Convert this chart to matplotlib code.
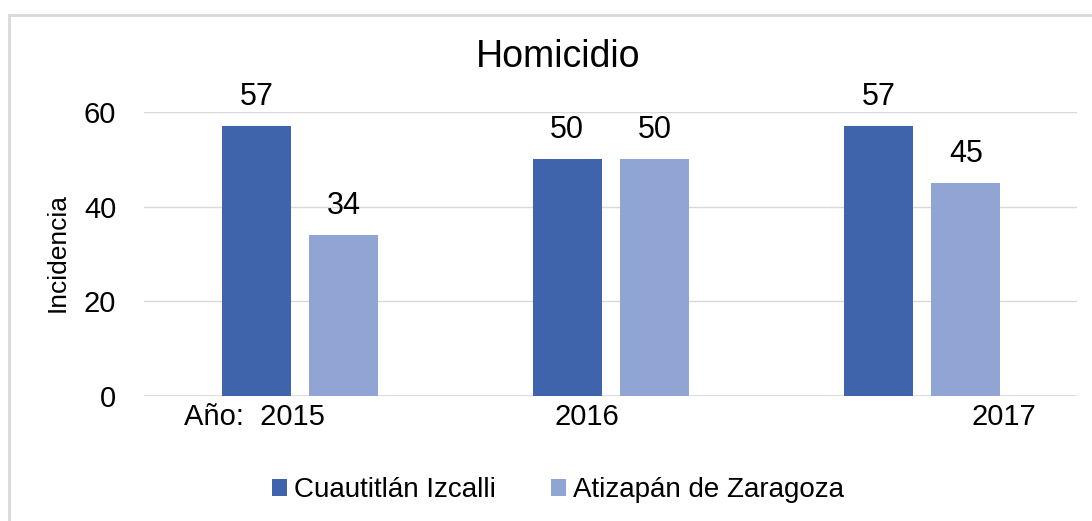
import matplotlib
matplotlib.use("Agg")
import matplotlib.pyplot as plt
from matplotlib.patches import Rectangle
import numpy as np

plt.rcParams['font.family'] = ['Liberation Sans', 'DejaVu Sans']

# ---- data ----
years = ["Año:  2015", "2016", "2017"]
series_names = ["Cuautitlán Izcalli", "Atizapán de Zaragoza"]
cuautitlan = [57, 50, 57]
atizapan = [34, 50, 45]
title = "Homicidio"
ylabel = "Incidencia"
yticks = [0, 20, 40, 60]

# ---- style/layout ----
colors = ["#3F64AC", "#90A5D4"]
bar_w = 0.222
offsets = [-0.139, 0.143]
label_shift = [-0.146, -0.076, 0.265]  # tick label displacement per category
grid_c = "#D9D9D9"

fig = plt.figure(figsize=(10.92, 5.21), dpi=100)
ax = fig.add_axes([144/1092, 1-396/521, (1077-144)/1092, (396-112)/521])

x = np.arange(len(years))
for vals, off, c, name in zip([cuautitlan, atizapan], offsets, colors, series_names):
    bars = ax.bar(x + off, vals, width=bar_w, color=c, label=name, zorder=3)
    ax.bar_label(bars, labels=[str(v) for v in vals], padding=10, fontsize=22, color="#000000")

ax.set_xlim(-0.5, len(years) - 0.5)
ax.set_ylim(0, 60)
ax.set_yticks(yticks)
ax.yaxis.grid(True, color=grid_c, linewidth=1.0, zorder=0)
ax.set_axisbelow(True)
for s in ["left", "right", "top", "bottom"]:
    ax.spines[s].set_visible(False)
ax.axhline(0, color=grid_c, linewidth=1.2, zorder=1)
ax.tick_params(axis="y", length=0, pad=20, labelsize=21)
ax.set_xticks(x + np.array(label_shift))
ax.set_xticklabels(years)
ax.tick_params(axis="x", length=0, pad=5, labelsize=21)

fig.text(58/1092, 1-253/521, ylabel, rotation=90, ha="center", va="center", fontsize=19)
fig.text(558/1092, 1-67/521, title, ha="center", va="baseline", fontsize=27)

fig.legend(loc="center", bbox_to_anchor=(558/1092, 1-490/521), ncol=2, frameon=False,
           fontsize=20, handlelength=0.55, handleheight=0.55, handletextpad=0.25,
           columnspacing=2.0)

fig.patches.append(Rectangle((9/1092, -0.2), 1.2, 1.2 - 14.5/521 + 0.0,
                             transform=fig.transFigure, fill=False,
                             edgecolor=grid_c, linewidth=2.0, zorder=0))

fig.savefig("out.png", dpi=100)
